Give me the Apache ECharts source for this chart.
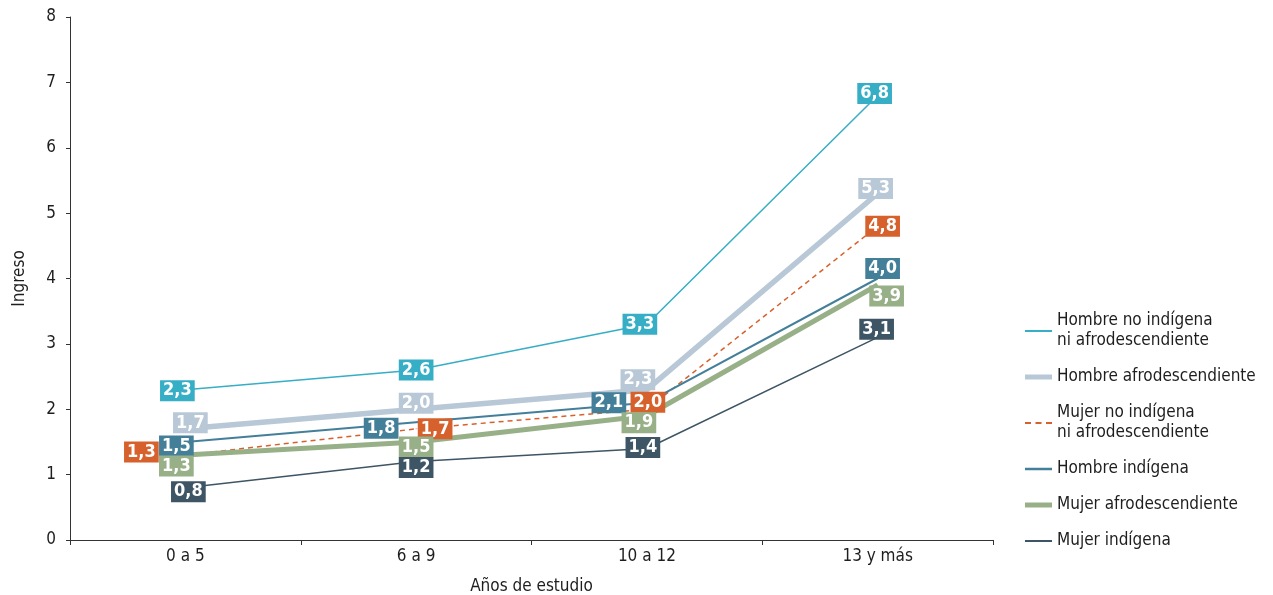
<!DOCTYPE html>
<html>
<head>
<meta charset="utf-8">
<script src="https://cdn.jsdelivr.net/npm/echarts@6/dist/echarts.min.js"></script>
<style>
  html, body { margin: 0; padding: 0; background: #fff; }
  #chart { width: 1273px; height: 595px; }
</style>
</head>
<body>
<div id="chart"></div>
<script>
// Años de estudio
const categories = ['0 a 5', '6 a 9', '10 a 12', '13 y más'];

// Ingreso por grupo
const hombreNoIndigena = [2.3, 2.6, 3.3, 6.8];
const hombreAfro = [1.7, 2.0, 2.3, 5.3];
const mujerNoIndigena = [1.3, 1.7, 2.0, 4.8];
const hombreIndigena = [1.5, 1.8, 2.1, 4.0];
const mujerAfro = [1.3, 1.5, 1.9, 3.9];
const mujerIndigena = [0.8, 1.2, 1.4, 3.1];

const yTicks = [0, 1, 2, 3, 4, 5, 6, 7, 8];

const FONT = "'DejaVu Sans Condensed', 'Roboto Condensed', 'Arial Narrow', Roboto, sans-serif";

// label nudges (px) so the boxes don't sit on top of each other
const nudges = {
  a: [[-8, 1], [0, 0], [-7, 0], [-3, -2]],
  b: [[5, -6], [0, -6], [-9, -10], [-2, -5]],
  c: [[-44, -3], [19, 0], [1, -7], [5, 0]],
  d: [[-9, 4], [-35, 6], [-38, 0], [5, -10]],
  e: [[-9, 11], [0, 5], [-8, 7], [9, 11]],
  f: [[3, 4], [0, 6], [-4, -1], [-1, -8]]
};

// legend swatches: thin line, thick band, dashed line
const ICON_THIN = 'path://M0,0h27v2h-27z';
const ICON_MID = 'path://M0,0h27v2.5h-27z';
const ICON_THICK = 'path://M0,0h27v5h-27z';
const ICON_DASH = 'path://M0,0h6v2h-6zM10.5,0h6v2h-6zM21,0h6v2h-6z';

function build(name, values, color, width, type, key) {
  return {
    name: name,
    type: 'line',
    data: values.map((v, i) => ({
      value: v,
      label: { offset: nudges[key][i] }
    })),
    symbol: 'circle',
    symbolSize: 1,
    showSymbol: true,
    itemStyle: { color: color },
    lineStyle: { color: color, width: width, type: type },
    label: {
      show: true,
      position: 'inside',
      formatter: p => p.value.toFixed(1).replace('.', ','),
      color: '#fff',
      fontFamily: FONT,
      fontWeight: 'bold',
      fontSize: 18,
      backgroundColor: color,
      padding: [2, 3, 1, 3],
      lineHeight: 18
    },
    emphasis: { disabled: true },
    animation: false
  };
}

const legendText = {
  'Hombre no indígena ni afrodescendiente': 'Hombre no indígena\nni afrodescendiente',
  'Mujer no indígena ni afrodescendiente': 'Mujer no indígena\nni afrodescendiente'
};

const series = [
  build('Hombre no indígena ni afrodescendiente', hombreNoIndigena, '#36aec6', 1.5, 'solid', 'a'),
  build('Hombre afrodescendiente', hombreAfro, '#b8c8d6', 5.5, 'solid', 'b'),
  build('Mujer no indígena ni afrodescendiente', mujerNoIndigena, '#d7612c', 1.5, [5, 4], 'c'),
  build('Hombre indígena', hombreIndigena, '#447f9a', 2, 'solid', 'd'),
  build('Mujer afrodescendiente', mujerAfro, '#98b088', 5, 'solid', 'e'),
  build('Mujer indígena', mujerIndigena, '#3d5564', 1.5, 'solid', 'f')
];
const icons = [ICON_THIN, ICON_THICK, ICON_DASH, ICON_MID, ICON_THICK, ICON_THIN];

const chart = echarts.init(document.getElementById('chart'), null, { renderer: 'canvas' });
chart.setOption({
  backgroundColor: '#fff',
  animation: false,
  grid: { left: 70, right: 280, top: 17, bottom: 55, containLabel: false, outerBoundsMode: 'none' },
  legend: {
    orient: 'vertical',
    left: 1020,
    top: 306,
    itemWidth: 27,
    itemHeight: 14,
    itemGap: 16,
    symbolKeepAspect: true,
    data: series.map((s, i) => ({ name: s.name, icon: icons[i] })),
    formatter: n => legendText[n] || n,
    textStyle: { fontFamily: FONT, fontSize: 17, color: '#1e1e1e', lineHeight: 20 }
  },
  xAxis: {
    type: 'category',
    data: categories,
    boundaryGap: true,
    name: 'Años de estudio',
    nameLocation: 'middle',
    nameGap: 38,
    nameTextStyle: { fontFamily: FONT, fontSize: 17, color: '#1e1e1e' },
    axisLine: { lineStyle: { color: '#333', width: 1 } },
    axisTick: { show: true, length: 5, lineStyle: { color: '#333' } },
    axisLabel: { fontFamily: FONT, fontSize: 17, color: '#1e1e1e', margin: 8 }
  },
  yAxis: {
    type: 'value',
    min: yTicks[0],
    max: yTicks[yTicks.length - 1],
    interval: 1,
    name: 'Ingreso',
    nameLocation: 'middle',
    nameGap: 42,
    nameRotate: 90,
    nameTextStyle: { fontFamily: FONT, fontSize: 17, color: '#1e1e1e' },
    axisLine: { show: true, lineStyle: { color: '#333', width: 1 } },
    axisTick: { show: true, length: 4, lineStyle: { color: '#333' } },
    splitLine: { show: false },
    axisLabel: { fontFamily: FONT, fontSize: 17, color: '#1e1e1e', margin: 14 }
  },
  series: series
});
</script>
</body>
</html>
